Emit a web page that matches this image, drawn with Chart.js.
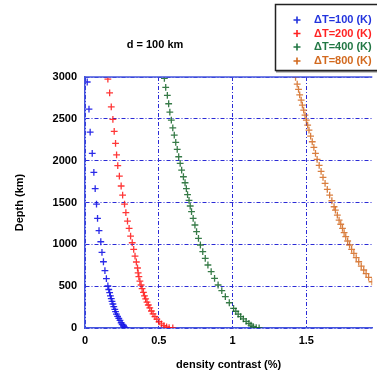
<!DOCTYPE html>
<html>
<head>
<meta charset="utf-8">
<script src="https://cdn.jsdelivr.net/npm/chart.js@4.4.1/dist/chart.umd.min.js"></script>
<style>
  body { margin: 0; background: #fff; }
  canvas { display: block; }
</style>
</head>
<body>
<canvas id="densityChart" width="377" height="374"></canvas>
<script>
// depth (km) / density contrast (%), d = 100 km
const seriesLabels = ["\u0394T=100 (K)", "\u0394T=200 (K)", "\u0394T=400 (K)", "\u0394T=800 (K)"];

const depth100 = [2940, 2617, 2340, 2087, 1860, 1665, 1480, 1310, 1163, 1031, 904, 792, 685, 589, 502, 460, 422, 385, 350, 318, 287, 255, 223, 195, 167, 140, 116, 90, 63, 42, 24, 10, 0];
const drho100  = [0.015, 0.027, 0.035, 0.049, 0.060, 0.069, 0.078, 0.085, 0.095, 0.107, 0.115, 0.125, 0.135, 0.145, 0.155, 0.161, 0.167, 0.172, 0.178, 0.183, 0.189, 0.195, 0.202, 0.207, 0.213, 0.221, 0.229, 0.237, 0.245, 0.252, 0.260, 0.268, 0.278];

const depth200 = [2975, 2811, 2644, 2493, 2350, 2207, 2070, 1940, 1816, 1697, 1589, 1481, 1378, 1278, 1190, 1099, 1019, 940, 860, 789, 717, 660, 613, 560, 514, 470, 426, 385, 347, 310, 275, 240, 203, 170, 135, 105, 75, 50, 28, 12, 4, 0];
const drho200  = [0.155, 0.167, 0.178, 0.189, 0.198, 0.207, 0.214, 0.222, 0.233, 0.245, 0.255, 0.268, 0.277, 0.288, 0.299, 0.309, 0.320, 0.330, 0.339, 0.348, 0.356, 0.360, 0.365, 0.372, 0.380, 0.387, 0.396, 0.403, 0.411, 0.420, 0.429, 0.439, 0.450, 0.461, 0.474, 0.487, 0.502, 0.518, 0.535, 0.553, 0.570, 0.595];

const depth400 = [2983, 2876, 2780, 2680, 2581, 2485, 2393, 2306, 2219, 2135, 2047, 1968, 1888, 1808, 1736, 1665, 1593, 1526, 1458, 1390, 1310, 1231, 1151, 1072, 992, 912, 833, 753, 673, 594, 514, 446, 374, 302, 235, 200, 167, 135, 108, 80, 56, 35, 16, 5, 0];
const drho400  = [0.538, 0.547, 0.558, 0.567, 0.575, 0.585, 0.595, 0.605, 0.615, 0.625, 0.635, 0.645, 0.655, 0.667, 0.678, 0.687, 0.695, 0.705, 0.713, 0.722, 0.733, 0.745, 0.756, 0.769, 0.782, 0.798, 0.815, 0.833, 0.855, 0.878, 0.902, 0.927, 0.951, 0.978, 1.007, 1.022, 1.038, 1.055, 1.073, 1.092, 1.111, 1.125, 1.140, 1.160, 1.180];

const depth800 = [2995, 2915, 2852, 2787, 2724, 2664, 2604, 2545, 2485, 2425, 2366, 2294, 2226, 2159, 2087, 2015, 1944, 1872, 1800, 1728, 1657, 1589, 1521, 1449, 1410, 1350, 1290, 1240, 1191, 1140, 1091, 1040, 992, 940, 892, 840, 792, 740, 693, 650, 606, 553];
const drho800  = [1.427, 1.438, 1.447, 1.455, 1.465, 1.473, 1.482, 1.491, 1.500, 1.509, 1.518, 1.529, 1.540, 1.551, 1.562, 1.573, 1.587, 1.600, 1.613, 1.627, 1.642, 1.658, 1.673, 1.688, 1.697, 1.710, 1.722, 1.733, 1.745, 1.756, 1.767, 1.780, 1.793, 1.807, 1.822, 1.838, 1.855, 1.872, 1.889, 1.905, 1.922, 1.945];

const markerColors = ["rgba(20,20,230,0.9)", "rgba(255,20,20,0.85)", "rgba(20,100,40,0.85)", "rgba(210,105,30,0.85)"];
const textColors = ["#2233dd", "#ff2222", "#227744", "#d2691e"];

const xTicks = [0, 0.5, 1, 1.5];
const yTicks = [0, 500, 1000, 1500, 2000, 2500, 3000];

const FONT = "'Liberation Sans', Arial, sans-serif";

function toPoints(xs, ys) {
    return xs.map((v, i) => ({ x: v, y: ys[i] }));
}

const allX = [drho100, drho200, drho400, drho800];
const allY = [depth100, depth200, depth400, depth800];

// legend box + panel title, drawn on top of the plot
const decorations = {
    id: 'decorations',
    afterDraw(chart) {
        const ctx = chart.ctx;
        const area = chart.chartArea;
        ctx.save();
        // solid top frame line
        ctx.strokeStyle = '#4455dd';
        ctx.lineWidth = 1.5;
        ctx.beginPath();
        ctx.moveTo(area.left, area.top);
        ctx.lineTo(area.right, area.top);
        ctx.stroke();

        // title
        ctx.fillStyle = '#000';
        ctx.font = 'bold 11px ' + FONT;
        ctx.textAlign = 'center';
        ctx.textBaseline = 'middle';
        ctx.fillText('d = 100 km', 155, 45);

        // legend box
        ctx.fillStyle = '#fff';
        ctx.fillRect(275, 4, 110, 66);
        ctx.fillStyle = '#888';
        ctx.fillRect(276, 70, 110, 2.5);
        ctx.strokeStyle = '#222';
        ctx.lineWidth = 1.5;
        ctx.strokeRect(275.5, 4.5, 110, 66);

        const rows = [20, 33.5, 47, 61];
        ctx.textAlign = 'left';
        rows.forEach((y, i) => {
            ctx.strokeStyle = textColors[i];
            ctx.lineWidth = 1.6;
            ctx.beginPath();
            ctx.moveTo(293.5, y); ctx.lineTo(300.5, y);
            ctx.moveTo(297, y - 3.5); ctx.lineTo(297, y + 3.5);
            ctx.stroke();
            ctx.fillStyle = textColors[i];
            ctx.fillText(seriesLabels[i], 314, y);
        });
        ctx.restore();
    }
};

const ctx = document.getElementById('densityChart').getContext('2d');

new Chart(ctx, {
    type: 'scatter',
    data: {
        datasets: seriesLabels.map((lbl, i) => ({
            label: lbl,
            data: toPoints(allX[i], allY[i]),
            pointStyle: 'cross',
            pointRadius: 3.4,
            pointBorderWidth: 1.3,
            borderColor: markerColors[i],
            backgroundColor: markerColors[i],
            pointHoverRadius: 3.4
        }))
    },
    options: {
        responsive: false,
        animation: false,
        events: [],
        layout: { padding: { top: 77, left: 0, right: 0, bottom: 0 } },
        plugins: {
            legend: { display: false },
            title: { display: false },
            tooltip: { enabled: false }
        },
        scales: {
            x: {
                type: 'linear',
                min: 0,
                max: 1.947,
                afterFit(scale) { scale.height = 46; },
                afterBuildTicks(scale) { scale.ticks = xTicks.map(v => ({ value: v })); },
                ticks: {
                    color: '#000',
                    padding: 6,
                    font: { family: FONT, size: 11, weight: 'bold' },
                    callback: v => String(v)
                },
                grid: { color: '#2b2bd6', lineWidth: 1, drawTicks: false },
                border: { color: '#4455dd', width: 1.5, dash: [4, 2, 1, 2] },
                title: {
                    display: true,
                    text: 'density contrast (%)',
                    color: '#000',
                    font: { family: FONT, size: 11, weight: 'bold' },
                    padding: { top: 4, bottom: 2 }
                }
            },
            y: {
                type: 'linear',
                min: 0,
                max: 3000,
                afterFit(scale) { scale.width = 85; },
                afterBuildTicks(scale) { scale.ticks = yTicks.map(v => ({ value: v })); },
                ticks: {
                    color: '#000',
                    padding: 8,
                    font: { family: FONT, size: 11, weight: 'bold' },
                    callback: v => String(v)
                },
                grid: { color: '#2b2bd6', lineWidth: 1, drawTicks: false },
                border: { color: '#4455dd', width: 1.5, dash: [4, 2, 1, 2] },
                title: {
                    display: true,
                    text: 'Depth (km)',
                    color: '#000',
                    font: { family: FONT, size: 11, weight: 'bold' },
                    padding: { top: 13, bottom: 0 }
                }
            }
        }
    },
    plugins: [decorations]
});
</script>
</body>
</html>
